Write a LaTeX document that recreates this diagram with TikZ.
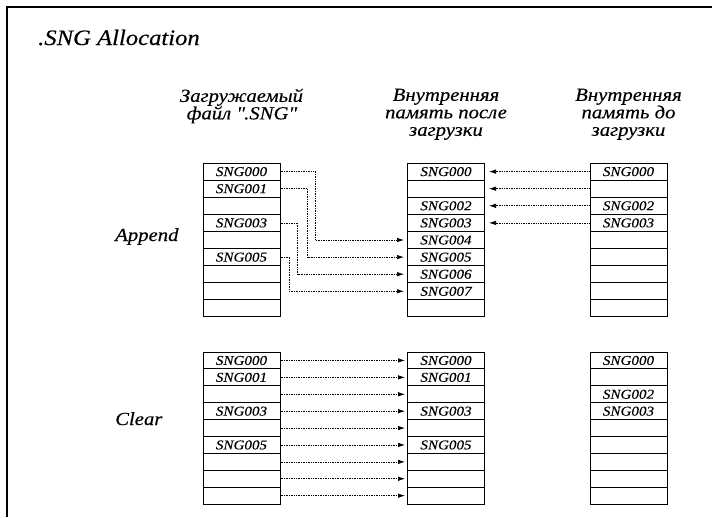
\documentclass[tikz,border=0pt]{standalone}
\usepackage{fontspec}
\setmainfont{Liberation Serif}[FakeStretch=1.12,FakeBold=0.3]
\usepackage{tikz}
\usetikzlibrary{positioning,arrows.meta}
\tikzstyle{cell} = [draw, rectangle, line width=1pt, minimum width=77pt, minimum height=17.1pt, inner sep=0pt, font=\itshape\fontsize{13.5}{13.5}\selectfont]
\tikzstyle{cellc} = [cell, minimum height=16.9pt]
\tikzstyle{header} = [align=center, inner sep=0pt, anchor=north, font=\itshape\fontsize{18.5}{17.5}\selectfont]
\tikzstyle{rowlabel} = [anchor=base west, inner sep=0pt, font=\itshape\fontsize{18.5}{18.5}\selectfont]
\tikzstyle{link} = [densely dotted, line width=0.7pt, -{Latex[length=7pt,width=4.5pt]}]

\begin{document}
\begin{tikzpicture}[x=1pt,y=-1pt]
\useasboundingbox (0,0) rectangle (712,517);
\draw[line width=1.2pt] (7,517) -- (7,7) -- (712,7);
\node[rowlabel, font=\itshape\fontsize{22}{22}\selectfont] (title) at (38,45) {.SNG Allocation};

% column headers
\node[header] (hfile) at (241.5,88.5) {Загружаемый\\файл \textquotedbl.SNG\textquotedbl};
\node[header] (hafter) at (446,88.5) {Внутренняя\\память после\\загрузки};
\node[header] (hbefore) at (628.5,88.5) {Внутренняя\\память до\\загрузки};

% Append
\node[rowlabel] (append) at (115,241) {Append};
\foreach \t [count=\i from 0] in {SNG000,SNG001,{},SNG003,{},SNG005,{},{},{}}
  \node[cell] (fa\i) at (241.5,171.6+17.1*\i) {\t};
\foreach \t [count=\i from 0] in {SNG000,{},SNG002,SNG003,SNG004,SNG005,SNG006,SNG007,{}}
  \node[cell] (ma\i) at (446,171.6+17.1*\i) {\t};
\foreach \t [count=\i from 0] in {SNG000,{},SNG002,SNG003,{},{},{},{},{}}
  \node[cell] (ba\i) at (628.5,171.6+17.1*\i) {\t};

\foreach \i in {0,...,3}
  \draw[link, shorten >=4pt] (ba\i.west) -- (ma\i.east);
\draw[link, shorten >=3pt] (fa0.east) -- ++(35,0) |- (ma4.west);
\draw[link, shorten >=3pt] (fa1.east) -- ++(27,0) |- (ma5.west);
\draw[link, shorten >=3pt] (fa3.east) -- ++(17,0) |- (ma6.west);
\draw[link, shorten >=3pt] (fa5.east) -- ++(9,0) |- (ma7.west);

% Clear
\node[rowlabel] (clear) at (115,425) {Clear};
\foreach \t [count=\i from 0] in {SNG000,SNG001,{},SNG003,{},SNG005,{},{},{}}
  \node[cellc] (fc\i) at (241.5,360.45+16.9*\i) {\t};
\foreach \t [count=\i from 0] in {SNG000,SNG001,{},SNG003,{},SNG005,{},{},{}}
  \node[cellc] (mc\i) at (446,360.45+16.9*\i) {\t};
\foreach \t [count=\i from 0] in {SNG000,{},SNG002,SNG003,{},{},{},{},{}}
  \node[cellc] (bc\i) at (628.5,360.45+16.9*\i) {\t};

\foreach \i in {0,...,8}
  \draw[link, shorten >=2pt] (fc\i.east) -- (mc\i.west);
\end{tikzpicture}
\end{document}
